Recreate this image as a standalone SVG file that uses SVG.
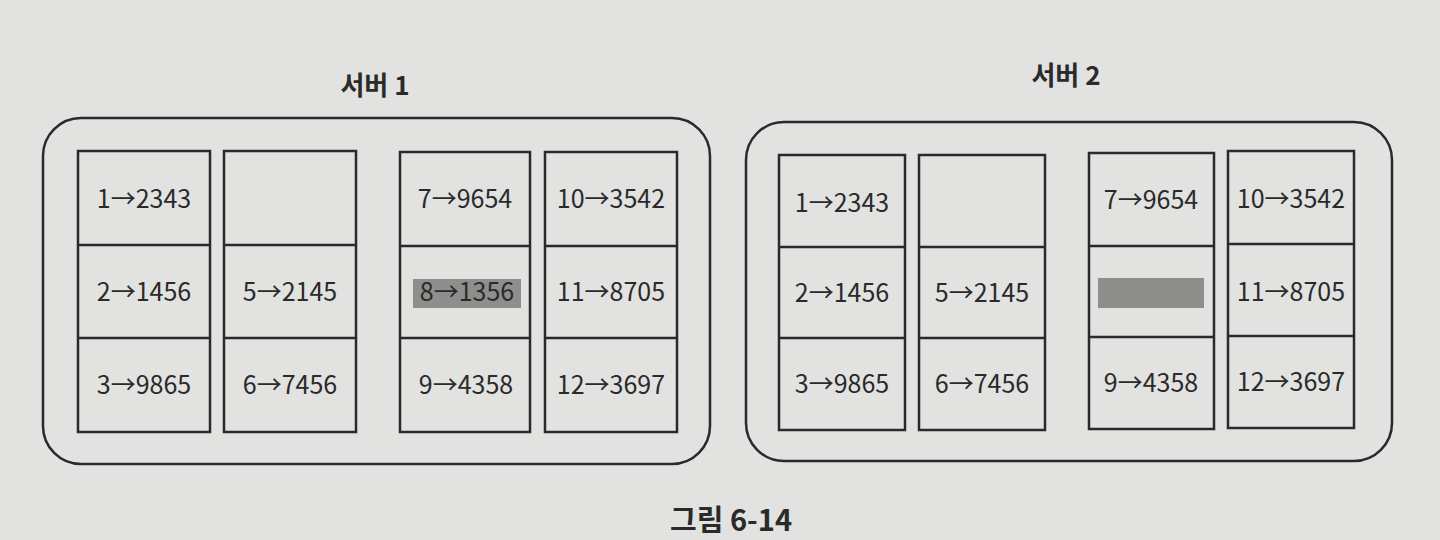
<svg xmlns="http://www.w3.org/2000/svg" width="1440" height="540" viewBox="0 0 1440 540">
<style>
.bg{fill:#e2e2e0}
.srv{fill:none;stroke:#2a2a2a;stroke-width:2.5}
.cell{fill:none;stroke:#2a2a2a;stroke-width:2.5}
.t{font-family:"Noto Sans CJK KR","Noto Sans",sans-serif;font-size:25px;fill:#2a2a2a;text-anchor:middle}
.title{font-family:"Noto Sans CJK KR","Noto Sans",sans-serif;font-size:26px;font-weight:bold;fill:#2a2a2a;text-anchor:middle}
.cap{font-family:"Noto Sans CJK KR","Noto Sans",sans-serif;font-size:29px;font-weight:bold;fill:#2a2a2a;text-anchor:middle}
.hl{fill:#8e8e8c}
</style>
<rect class="bg" x="0" y="0" width="1440" height="540"/>
<g id="server1">
  <text class="title" x="375" y="95">서버 1</text>
  <rect class="srv" x="43" y="118" width="667" height="346" rx="38"/>
  <g id="s1c1">
    <rect class="cell" x="78" y="151" width="132" height="281"/>
    <line class="cell" x1="78" y1="245" x2="210" y2="245"/>
    <line class="cell" x1="78" y1="338" x2="210" y2="338"/>
    <text class="t" x="144" y="208">1→2343</text>
    <text class="t" x="144" y="301">2→1456</text>
    <text class="t" x="144" y="394">3→9865</text>
  </g>
  <g id="s1c2">
    <rect class="cell" x="224" y="151" width="132" height="281"/>
    <line class="cell" x1="224" y1="245" x2="356" y2="245"/>
    <line class="cell" x1="224" y1="338" x2="356" y2="338"/>
    <text class="t" x="290" y="301">5→2145</text>
    <text class="t" x="290" y="394">6→7456</text>
  </g>
  <g id="s1c3">
    <rect class="cell" x="400" y="152" width="130" height="280"/>
    <line class="cell" x1="400" y1="246" x2="530" y2="246"/>
    <line class="cell" x1="400" y1="338" x2="530" y2="338"/>
    <rect class="hl" x="413" y="279" width="108" height="29"/>
    <text class="t" x="465" y="208">7→9654</text>
    <text class="t" x="467" y="301">8→1356</text>
    <text class="t" x="466" y="394">9→4358</text>
  </g>
  <g id="s1c4">
    <rect class="cell" x="545" y="152" width="132" height="280"/>
    <line class="cell" x1="545" y1="246" x2="677" y2="246"/>
    <line class="cell" x1="545" y1="338" x2="677" y2="338"/>
    <text class="t" x="611" y="208">10→3542</text>
    <text class="t" x="611" y="301">11→8705</text>
    <text class="t" x="611" y="394">12→3697</text>
  </g>
</g>
<g id="server2">
  <text class="title" x="1066" y="85">서버 2</text>
  <rect class="srv" x="746" y="122" width="646" height="339" rx="38"/>
  <g id="s2c1">
    <rect class="cell" x="779" y="155" width="126" height="275"/>
    <line class="cell" x1="779" y1="247" x2="905" y2="247"/>
    <line class="cell" x1="779" y1="338" x2="905" y2="338"/>
    <text class="t" x="842" y="212">1→2343</text>
    <text class="t" x="842" y="302">2→1456</text>
    <text class="t" x="842" y="393">3→9865</text>
  </g>
  <g id="s2c2">
    <rect class="cell" x="919" y="155" width="126" height="275"/>
    <line class="cell" x1="919" y1="247" x2="1045" y2="247"/>
    <line class="cell" x1="919" y1="338" x2="1045" y2="338"/>
    <text class="t" x="982" y="302">5→2145</text>
    <text class="t" x="982" y="393">6→7456</text>
  </g>
  <g id="s2c3">
    <rect class="cell" x="1089" y="153" width="125" height="276"/>
    <line class="cell" x1="1089" y1="246" x2="1214" y2="246"/>
    <line class="cell" x1="1089" y1="337" x2="1214" y2="337"/>
    <rect class="hl" x="1098" y="278" width="106" height="30"/>
    <text class="t" x="1151" y="209">7→9654</text>
    <text class="t" x="1151" y="392">9→4358</text>
  </g>
  <g id="s2c4">
    <rect class="cell" x="1228" y="151" width="126" height="277"/>
    <line class="cell" x1="1228" y1="244" x2="1354" y2="244"/>
    <line class="cell" x1="1228" y1="336" x2="1354" y2="336"/>
    <text class="t" x="1291" y="208">10→3542</text>
    <text class="t" x="1291" y="301">11→8705</text>
    <text class="t" x="1291" y="391">12→3697</text>
  </g>
</g>
<g id="connectors"></g>
<text class="cap" x="731" y="531">그림 6-14</text>
</svg>
